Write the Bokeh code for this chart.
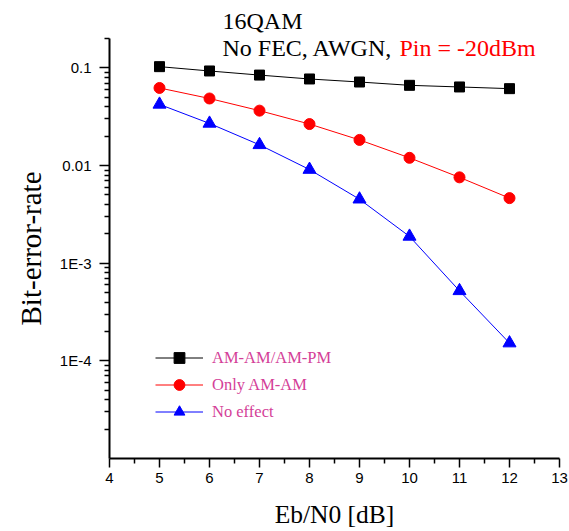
from bokeh.plotting import figure
from bokeh.models import FixedTicker, Label, Legend, LegendItem
from bokeh.embed import file_html
from bokeh.resources import INLINE

# ---- data ----
ebn0 = [5, 6, 7, 8, 9, 10, 11, 12]
ber_amam_ampm = [0.103, 0.093, 0.0844, 0.077, 0.0717, 0.0663, 0.0638, 0.0613]
ber_only_amam = [0.0623, 0.0486, 0.0365, 0.0266, 0.0183, 0.0120, 0.00757, 0.00464]
ber_no_effect = [0.0423, 0.0270, 0.0163, 0.0091, 0.00452, 0.00188, 0.000521, 0.000152]

series_names = ["AM-AM/AM-PM", "Only AM-AM", "No effect"]
x_ticks = [4, 5, 6, 7, 8, 9, 10, 11, 12, 13]
y_ticks = [1e-4, 1e-3, 1e-2, 1e-1]
y_tick_labels = ["1E-4", "1E-3", "0.01", "0.1"]

SERIF = "Liberation Serif"
SANS = "Liberation Sans"

p = figure(width=569, height=531, x_range=(4, 13), y_range=(1e-5, 0.2),
           y_axis_type="log", output_backend="svg", toolbar_location=None,
           min_border_left=109, min_border_right=10, min_border_top=38,
           min_border_bottom=69)
p.outline_line_color = None
p.xgrid.visible = False
p.ygrid.visible = False
p.background_fill_color = "white"
p.border_fill_color = "white"

# title (first line)
p.title.text = "16QAM"
p.title.align = "left"
p.title.offset = 113
p.title.text_font = SERIF
p.title.text_font_size = "24px"
p.title.text_font_style = "normal"
p.title.text_color = "black"
p.title.standoff = 9

# x axis
p.xaxis.ticker = FixedTicker(ticks=x_ticks,
                             minor_ticks=[t + 0.5 for t in x_ticks[:-1]])
# y axis
minor = [m * 10.0 ** k for k in range(-5, 0) for m in range(2, 10)]
p.yaxis.ticker = FixedTicker(ticks=y_ticks, minor_ticks=minor)
p.yaxis.major_label_overrides = {t: l for t, l in zip(y_ticks, y_tick_labels)}

for ax in (p.xaxis, p.yaxis):
    ax.axis_line_width = 2
    ax.axis_line_color = "black"
    ax.major_tick_line_color = "black"
    ax.minor_tick_line_color = "black"
    ax.major_tick_line_width = 1.5
    ax.minor_tick_line_width = 1.5
    ax.major_tick_in = 0
    ax.minor_tick_in = 0
    ax.minor_tick_out = 5
    ax.major_label_text_font = SANS
    ax.major_label_text_font_size = "15px"
    ax.major_label_text_color = "black"
    ax.axis_label_text_font = SERIF
    ax.axis_label_text_font_style = "normal"
    ax.axis_label_text_color = "black"

p.xaxis.major_tick_out = 9
p.xaxis.major_label_standoff = 5
p.xaxis.axis_label = "Eb/N0 [dB]"
p.xaxis.axis_label_text_font_size = "25.5px"
p.xaxis.axis_label_standoff = 14

p.yaxis.major_tick_out = 10
p.yaxis.major_label_standoff = 8
p.yaxis.axis_label = "Bit-error-rate"
p.yaxis.axis_label_text_font_size = "29px"
p.yaxis.axis_label_standoff = 10

# series
l1 = p.line(ebn0, ber_amam_ampm, line_color="black", line_width=1)
s1 = p.scatter(ebn0, ber_amam_ampm, marker="square", size=10,
               fill_color="black", line_color="black")
l2 = p.line(ebn0, ber_only_amam, line_color="red", line_width=1)
s2 = p.scatter(ebn0, ber_only_amam, marker="circle", size=11,
               fill_color="red", line_color="red")
l3 = p.line(ebn0, ber_no_effect, line_color="blue", line_width=1)
s3 = p.scatter(ebn0, ber_no_effect, marker="triangle", size=13,
               fill_color="blue", line_color="blue")

legend = Legend(items=[
    LegendItem(label=series_names[0], renderers=[l1, s1]),
    LegendItem(label=series_names[1], renderers=[l2, s2]),
    LegendItem(label=series_names[2], renderers=[l3, s3]),
], location=(46, 33))
legend.padding = 0
legend.margin = 0
legend.spacing = 0
legend.border_line_color = None
legend.background_fill_alpha = 0
legend.glyph_width = 48
legend.glyph_height = 27
legend.label_height = 27
legend.label_standoff = 9
legend.label_text_font = SERIF
legend.label_text_font_size = "16.5px"
legend.label_text_color = "#d43f98"
p.add_layout(legend)

# second title line (two colours)
p.add_layout(Label(x=113, y=411, x_units="screen", y_units="screen",
                   text="No FEC, AWGN, ", text_font=SERIF,
                   text_font_size="24px", text_color="black",
                   text_baseline="alphabetic"))
p.add_layout(Label(x=290, y=411, x_units="screen", y_units="screen",
                   text="Pin = -20dBm", text_font=SERIF,
                   text_font_size="24px", text_color="red",
                   text_baseline="alphabetic"))

open("out.html", "w").write(file_html(p, INLINE))
